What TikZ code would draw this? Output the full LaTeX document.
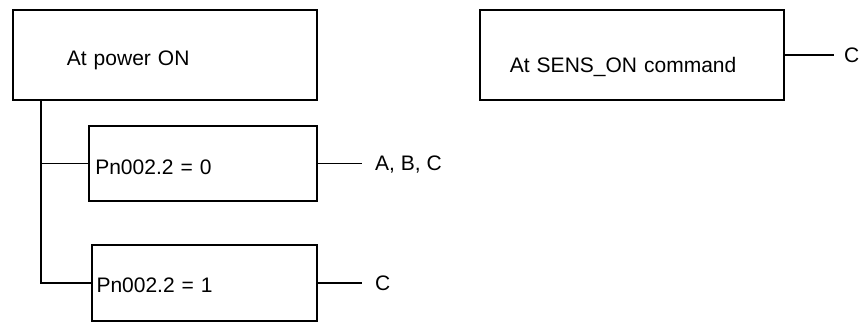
\documentclass[tikz,border=0pt]{standalone}
\usepackage{fontspec}
\setmainfont{Liberation Sans}
\usetikzlibrary{positioning}

\begin{document}
\begin{tikzpicture}[
    x=0.5pt, y=-0.5pt,
    every node/.style={font=\fontsize{10.5}{12.6}\selectfont},
    cond/.style={draw=black, rectangle, line width=0.9pt, align=left, anchor=north west, inner ysep=0pt, text depth=0pt},
    res/.style={inner sep=0pt, text height=7.5pt, text depth=0pt, anchor=west},
    wire/.style={draw=black, line width=0.9pt}
]
    \useasboundingbox (0,0) rectangle (863,322);

    % Power-on condition and its two parameter cases
    \node[cond, minimum width=152pt, minimum height=45pt, inner xsep=27pt, text width=98pt, text height=10.5pt] (power) at (12,9) {At power ON};
    \node[cond, minimum width=114pt, minimum height=37.5pt, inner xsep=3.2pt, text width=107.6pt, text height=11pt] (pnzero) at (88,125) {Pn002.2 = 0};
    \node[cond, minimum width=112.5pt, minimum height=38pt, inner xsep=2.3pt, text width=107.9pt, text height=9.5pt] (pnone) at (91,244) {Pn002.2 = 1};

    % SENS_ON condition
    \node[cond, minimum width=152pt, minimum height=45pt, inner xsep=15pt, text width=122pt, text height=17.2pt] (senson) at (479,9) {At SENS\_ON command};

    % Results
    \node[res, right=28.5pt of pnzero] (abc) {A, B, C};
    \node[res, right=28.5pt of pnone] (conly) {C};
    \node[res, right=29.5pt of senson] (csens) {C};

    % Connectors
    \draw[wire] ([xshift=14.5pt]power.south west) |- (pnzero.west);
    \draw[wire] ([xshift=14.5pt]power.south west) |- (pnone.west);
    \draw[wire] (pnzero.east) -- ([xshift=-6.5pt]abc.west);
    \draw[wire] (pnone.east) -- ([xshift=-6.5pt]conly.west);
    \draw[wire] (senson.east) -- ([xshift=-5pt]csens.west);

\end{tikzpicture}
\end{document}
